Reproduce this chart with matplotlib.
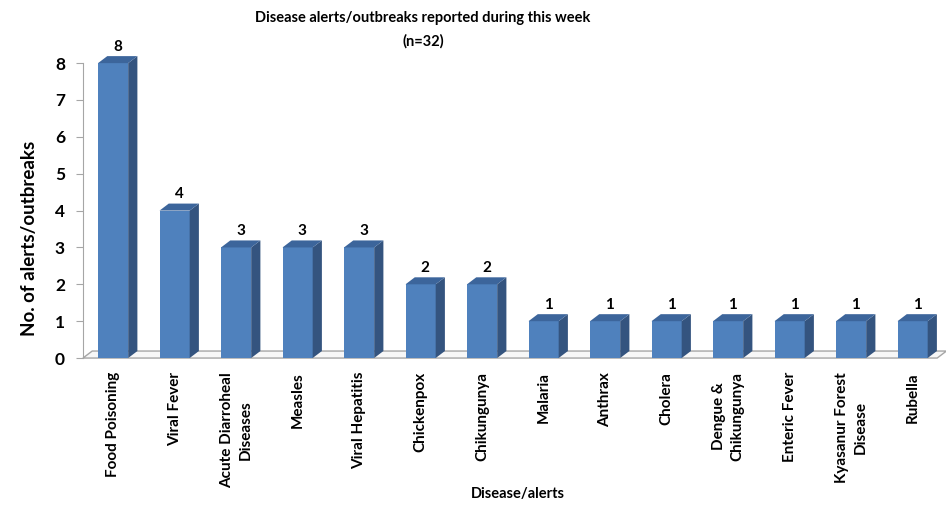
import matplotlib
matplotlib.use("Agg")
import matplotlib.pyplot as plt
from matplotlib.patches import Polygon

plt.rcParams['font.family'] = ['Lato', 'DejaVu Sans']
plt.rcParams['font.weight'] = 'bold'

# data
diseases = ["Food Poisoning", "Viral Fever", "Acute Diarroheal\nDiseases", "Measles",
            "Viral Hepatitis", "Chickenpox", "Chikungunya", "Malaria", "Anthrax",
            "Cholera", "Dengue &\nChikungunya", "Enteric Fever",
            "Kyasanur Forest\nDisease", "Rubella"]
counts = [8, 4, 3, 3, 3, 2, 2, 1, 1, 1, 1, 1, 1, 1]

front_col = '#4F81BD'
side_col = '#34547F'
top_col = '#3C659B'
grid_col = '#A6A6A6'

fig = plt.figure(figsize=(9.46, 5.05), dpi=100)
ax = fig.add_axes([0.0877, 0.291, 0.903, 0.584])

xmin, xmax = -0.49, 13.4
ax.set_xlim(xmin, xmax)
ax.set_ylim(0, 8)

# pseudo 3d depth (data units)
dx = 0.15
dy = 0.19
w = 0.49

# floor
floor = Polygon([(xmin, 0), (xmax, 0), (xmax + dx, dy), (xmin + dx, dy)], closed=True,
                facecolor='#F7F7F7', edgecolor=grid_col, lw=1, clip_on=False, zorder=1)
ax.add_patch(floor)

for i, v in enumerate(counts):
    l, r = i - w / 2, i + w / 2
    ax.bar(i, v, width=w, color=front_col, zorder=3, clip_on=False)
    side = Polygon([(r, 0), (r + dx, dy), (r + dx, v + dy), (r, v)], closed=True,
                   facecolor=side_col, edgecolor='none', clip_on=False, zorder=3)
    top = Polygon([(l, v), (r, v), (r + dx, v + dy), (l + dx, v + dy)], closed=True,
                  facecolor=top_col, edgecolor='none', clip_on=False, zorder=3)
    ax.add_patch(side)
    ax.add_patch(top)
    ax.text(i + dx / 2, v + dy + 0.06, str(v), ha='center', va='bottom',
            fontsize=11, fontweight='bold', clip_on=False)

for s in ['top', 'right', 'bottom']:
    ax.spines[s].set_visible(False)
ax.spines['left'].set_color(grid_col)
ax.spines['left'].set_position(('data', xmin))

ax.set_yticks(range(0, 9))
ax.tick_params(axis='y', colors=grid_col, labelcolor='black', labelsize=12.5,
               length=5, direction='out', pad=8)
for t in ax.get_yticklabels():
    t.set_fontweight('bold')

ax.set_xticks(range(len(diseases)))
ax.set_xticklabels(diseases, rotation=90, fontsize=11, fontweight='bold',
                   va='top', ha='center', linespacing=1.45)
ax.tick_params(axis='x', length=0, pad=10)

ax.set_ylabel("No. of alerts/outbreaks", fontsize=13.5, fontweight='bold',
              va='center')
ax.yaxis.set_label_coords(-0.063, 0.407)
fig.text(0.547, 0.022, "Disease/alerts", ha='center', va='center',
         fontsize=10.5, fontweight='bold')

fig.text(0.447, 0.978, "Disease alerts/outbreaks reported during this week\n(n=32)",
         ha='center', va='top', fontsize=10.5,
         fontweight='bold', linespacing=1.75)

fig.savefig("out.png", dpi=100)
